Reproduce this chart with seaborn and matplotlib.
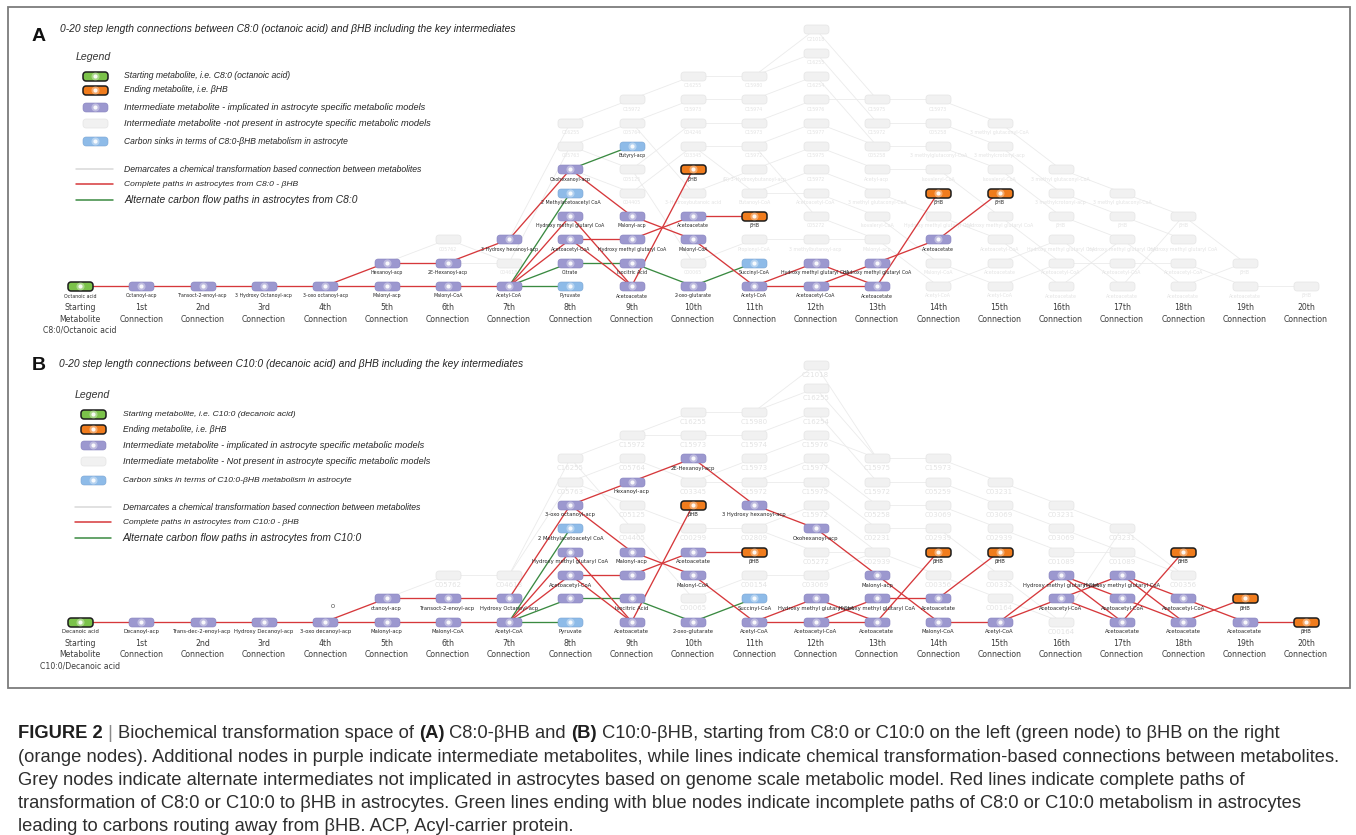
import numpy as np
import pandas as pd
import matplotlib
matplotlib.use("Agg")
import matplotlib.pyplot as plt
import seaborn as sns
from matplotlib.path import Path
from matplotlib.markers import MarkerStyle
from matplotlib.patches import Rectangle
from matplotlib import font_manager

sns.set_theme(style="white")
plt.rcParams["font.family"] = ["DejaVu Sans"]

# ------------------------------------------------------------------ data
COLUMN_HEADS = ["Starting", "1st", "2nd", "3rd", "4th", "5th", "6th", "7th", "8th", "9th",
                "10th", "11th", "12th", "13th", "14th", "15th", "16th", "17th", "18th",
                "19th", "20th"]
COLUMN_SUB = ["Metabolite"] + ["Connection"] * 20
START_NAME_A = "C8:0/Octanoic acid"
START_NAME_B = "C10:0/Decanoic acid"

# (connection, row, metabolite, kind)
A_NODES = [
    (0, 0, "Octanoic acid", "start"),
    (1, 0, "Octanoyl-acp", "mid"),
    (2, 0, "Transoct-2-enoyl-acp", "mid"),
    (3, 0, "3 Hydroxy Octanoyl-acp", "mid"),
    (4, 0, "3-oxo octanoyl-acp", "mid"),
    (5, 0, "Malonyl-acp", "mid"),
    (5, 1, "Hexanoyl-acp", "mid"),
    (6, 0, "Malonyl-CoA", "mid"),
    (6, 1, "2E-Hexanoyl-acp", "mid"),
    (7, 0, "Acetyl-CoA", "mid"),
    (7, 2, "3 Hydroxy hexanoyl-acp", "mid"),
    (8, 0, "Pyruvate", "sink"),
    (8, 1, "Citrate", "mid"),
    (8, 2, "Acetoacetyl-CoA", "mid"),
    (8, 3, "Hydroxy methyl glutaryl CoA", "mid"),
    (8, 4, "2 Methylacetoacetyl CoA", "sink"),
    (8, 5, "Oxohexanoyl-acp", "mid"),
    (9, 0, "Acetoacetate", "mid"),
    (9, 1, "Isocitric Acid", "mid"),
    (9, 2, "Hydroxy methyl glutaryl CoA", "mid"),
    (9, 3, "Malonyl-acp", "mid"),
    (9, 6, "Butyryl-acp", "sink"),
    (10, 0, "2-oxo-glutarate", "mid"),
    (10, 2, "Malonyl-CoA", "mid"),
    (10, 3, "Acetoacetate", "mid"),
    (10, 5, "βHB", "end"),
    (11, 0, "Acetyl-CoA", "mid"),
    (11, 1, "Succinyl-CoA", "sink"),
    (11, 3, "βHB", "end"),
    (12, 0, "Acetoacetyl-CoA", "mid"),
    (12, 1, "Hydroxy methyl glutaryl CoA", "mid"),
    (13, 0, "Acetoacetate", "mid"),
    (13, 1, "Hydroxy methyl glutaryl CoA", "mid"),
    (14, 2, "Acetoacetate", "mid"),
    (14, 4, "βHB", "end"),
    (15, 4, "βHB", "end"),
]

# (from connection, from row, to connection, to row, path kind)
A_EDGES = [
    (0, 0, 1, 0, "path"), (1, 0, 2, 0, "path"), (2, 0, 3, 0, "path"), (3, 0, 4, 0, "path"),
    (4, 0, 5, 0, "path"), (4, 0, 5, 1, "path"), (5, 0, 6, 0, "path"), (5, 1, 6, 1, "path"),
    (6, 0, 7, 0, "path"), (6, 1, 7, 2, "path"), (7, 2, 8, 5, "path"), (7, 0, 8, 3, "path"),
    (7, 0, 8, 2, "path"), (8, 5, 9, 3, "path"), (8, 3, 9, 0, "path"), (8, 2, 9, 2, "path"),
    (8, 2, 9, 0, "path"), (9, 3, 10, 2, "path"), (9, 2, 10, 3, "path"), (9, 0, 10, 5, "path"),
    (10, 3, 11, 3, "path"), (10, 2, 11, 0, "path"), (11, 0, 12, 1, "path"), (11, 0, 12, 0, "path"),
    (12, 1, 13, 0, "path"), (12, 0, 13, 1, "path"), (12, 0, 13, 0, "path"), (13, 1, 14, 2, "path"),
    (13, 0, 14, 4, "path"), (14, 2, 15, 4, "path"),
    (7, 0, 8, 4, "alt"), (7, 0, 8, 1, "alt"), (7, 0, 8, 0, "alt"), (8, 5, 9, 6, "alt"),
    (8, 1, 9, 1, "alt"), (9, 1, 10, 0, "alt"), (10, 0, 11, 1, "alt"),
]

# metabolites not present in astrocyte models: connection -> [(row, name)]
A_GREY_NODES = {
    6: [(2, "C05762")],
    7: [(1, "C04618")],
    8: [(6, "C05763"), (7, "C16255")],
    9: [(4, "C04405"), (5, "C05125"), (7, "C05764"), (8, "C15972")],
    10: [(1, "C00065"), (4, "3-Hydroxybutanoic acid"), (6, "C03345"), (7, "C04246"),
         (8, "C15973"), (9, "C16255")],
    11: [(2, "Propionyl-CoA"), (4, "Butanoyl-CoA"), (5, "(R)-3-Hydroxybutanoyl-acp"),
         (6, "C15972"), (7, "C15973"), (8, "C15974"), (9, "C15980")],
    12: [(2, "3 methylbutanoyl-acp"), (3, "C05272"), (4, "Acetoacetyl-CoA"), (5, "C15972"),
         (6, "C15975"), (7, "C15977"), (8, "C15976"), (9, "C16254"), (10, "C16255"),
         (11, "C21018")],
    13: [(2, "Malonyl-acp"), (3, "Isovaleryl-CoA"), (4, "3 methyl glutaconyl-CoA"),
         (5, "Acetyl-acp"), (6, "C05258"), (7, "C15972"), (8, "C15975")],
    14: [(0, "Acetyl-CoA"), (1, "Malonyl-CoA"), (3, "Hydroxy methyl glutaryl CoA"),
         (5, "Isovaleryl-CoA"), (6, "3 methylglutaconyl-CoA"), (7, "C05258"), (8, "C15973")],
    15: [(0, "Acetyl-CoA"), (1, "Acetoacetate"), (2, "Acetoacetyl-CoA"),
         (3, "Hydroxy methyl glutaryl CoA"), (5, "Isovaleryl-CoA"),
         (6, "3 methylcrotonyl-acp"), (7, "3 methyl glutaconyl-CoA")],
    16: [(0, "Acetoacetate"), (1, "Acetoacetyl-CoA"), (2, "Hydroxy methyl glutaryl CoA"),
         (3, "βHB"), (4, "3 methylcrotonyl-acp"), (5, "3 methyl glutaconyl-CoA")],
    17: [(0, "Acetoacetate"), (1, "Acetoacetyl-CoA"), (2, "Hydroxy methyl glutaryl CoA"),
         (3, "βHB"), (4, "3 methyl glutaconyl-CoA")],
    18: [(0, "Acetoacetate"), (1, "Acetoacetyl-CoA"), (2, "Hydroxy methyl glutaryl CoA"),
         (3, "βHB")],
    19: [(0, "Acetoacetate"), (1, "βHB")],
    20: [(0, "βHB")],
}

A_GREY_EDGES = [
    (5, 1, 6, 2), (6, 2, 7, 1), (6, 1, 7, 1), (7, 1, 8, 6), (7, 2, 8, 7), (8, 7, 9, 8),
    (8, 6, 9, 7), (8, 5, 9, 4), (8, 6, 9, 5), (9, 8, 10, 9), (9, 7, 10, 8), (9, 5, 10, 7),
    (9, 4, 10, 6), (9, 7, 10, 4), (9, 5, 10, 1), (10, 9, 11, 9), (10, 8, 11, 8), (10, 7, 11, 7),
    (10, 6, 11, 6), (10, 4, 11, 5), (10, 1, 11, 2), (10, 6, 11, 4), (11, 9, 12, 11),
    (11, 9, 12, 10), (11, 8, 12, 9), (11, 7, 12, 8), (11, 6, 12, 7), (11, 5, 12, 6),
    (11, 4, 12, 5), (11, 4, 12, 4), (11, 2, 12, 2), (11, 6, 12, 3), (12, 11, 13, 8),
    (12, 10, 13, 7), (12, 9, 13, 6), (12, 8, 13, 8), (12, 7, 13, 6), (12, 6, 13, 5),
    (12, 5, 13, 4), (12, 4, 13, 3), (12, 3, 13, 2), (12, 2, 13, 2), (13, 8, 14, 8),
    (13, 7, 14, 7), (13, 6, 14, 6), (13, 5, 14, 5), (13, 4, 14, 3), (13, 3, 14, 1),
    (13, 2, 14, 0), (14, 8, 15, 7), (14, 7, 15, 6), (14, 6, 15, 5), (14, 5, 15, 3),
    (14, 3, 15, 2), (14, 1, 15, 0), (14, 0, 15, 1), (15, 7, 16, 5), (15, 6, 16, 4),
    (15, 5, 16, 3), (15, 3, 16, 1), (15, 2, 16, 0), (15, 1, 16, 2), (15, 0, 16, 1),
    (16, 5, 17, 4), (16, 4, 17, 3), (16, 3, 17, 2), (16, 2, 17, 0), (16, 1, 17, 1),
    (16, 0, 17, 2), (17, 4, 18, 3), (17, 3, 18, 2), (17, 2, 18, 0), (17, 1, 18, 1),
    (17, 0, 18, 3), (18, 3, 19, 1), (18, 1, 19, 0), (18, 0, 19, 1), (19, 0, 20, 0),
]

B_NODES = [
    (0, 0, "Decanoic acid", "start"),
    (1, 0, "Decanoyl-acp", "mid"),
    (2, 0, "Trans-dec-2-enoyl-acp", "mid"),
    (3, 0, "Hydroxy Decanoyl-acp", "mid"),
    (4, 0, "3-oxo decanoyl-acp", "mid"),
    (5, 0, "Malonyl-acp", "mid"),
    (5, 1, "ctanoyl-acp", "mid"),
    (6, 0, "Malonyl-CoA", "mid"),
    (6, 1, "Transoct-2-enoyl-acp", "mid"),
    (7, 0, "Acetyl-CoA", "mid"),
    (7, 1, "Hydroxy Octanoyl-acp", "mid"),
    (8, 0, "Pyruvate", "sink"),
    (8, 1, "", "mid"),
    (8, 2, "Acetoacetyl-CoA", "mid"),
    (8, 3, "Hydroxy methyl glutaryl CoA", "mid"),
    (8, 4, "2 Methylacetoacetyl CoA", "sink"),
    (8, 5, "3-oxo octanoyl-acp", "mid"),
    (9, 0, "Acetoacetate", "mid"),
    (9, 1, "Isocitric Acid", "mid"),
    (9, 2, "", "mid"),
    (9, 3, "Malonyl-acp", "mid"),
    (9, 6, "Hexanoyl-acp", "mid"),
    (10, 0, "2-oxo-glutarate", "mid"),
    (10, 2, "Malonyl-CoA", "mid"),
    (10, 3, "Acetoacetate", "mid"),
    (10, 5, "βHB", "end"),
    (10, 7, "2E-Hexanoyl-acp", "mid"),
    (11, 0, "Acetyl-CoA", "mid"),
    (11, 1, "Succinyl-CoA", "sink"),
    (11, 3, "βHB", "end"),
    (11, 5, "3 Hydroxy hexanoyl-acp", "mid"),
    (12, 0, "Acetoacetyl-CoA", "mid"),
    (12, 1, "Hydroxy methyl glutaryl CoA", "mid"),
    (12, 4, "Oxohexanoyl-acp", "mid"),
    (13, 0, "Acetoacetate", "mid"),
    (13, 1, "Hydroxy methyl glutaryl CoA", "mid"),
    (13, 2, "Malonyl-acp", "mid"),
    (14, 0, "Malonyl-CoA", "mid"),
    (14, 1, "Acetoacetate", "mid"),
    (14, 3, "βHB", "end"),
    (15, 0, "Acetyl-CoA", "mid"),
    (15, 3, "βHB", "end"),
    (16, 1, "Acetoacetyl-CoA", "mid"),
    (16, 2, "Hydroxy methyl glutaryl CoA", "mid"),
    (17, 0, "Acetoacetate", "mid"),
    (17, 1, "Acetoacetyl-CoA", "mid"),
    (17, 2, "Hydroxy methyl glutaryl CoA", "mid"),
    (18, 0, "Acetoacetate", "mid"),
    (18, 1, "Acetoacetyl-CoA", "mid"),
    (18, 3, "βHB", "end"),
    (19, 0, "Acetoacetate", "mid"),
    (19, 1, "βHB", "end"),
    (20, 0, "βHB", "end"),
]

B_EDGES = [
    (0, 0, 1, 0, "path"), (1, 0, 2, 0, "path"), (2, 0, 3, 0, "path"), (3, 0, 4, 0, "path"),
    (4, 0, 5, 0, "path"), (4, 0, 5, 1, "path"), (5, 0, 6, 0, "path"), (5, 1, 6, 1, "path"),
    (6, 0, 7, 0, "path"), (6, 1, 7, 1, "path"), (7, 1, 8, 5, "path"), (7, 0, 8, 3, "path"),
    (7, 0, 8, 2, "path"), (8, 5, 9, 6, "path"), (8, 5, 9, 3, "path"), (8, 3, 9, 0, "path"),
    (8, 2, 9, 2, "path"), (8, 2, 9, 0, "path"), (9, 6, 10, 7, "path"), (9, 3, 10, 2, "path"),
    (9, 2, 10, 3, "path"), (9, 0, 10, 5, "path"), (10, 7, 11, 5, "path"), (10, 3, 11, 3, "path"),
    (10, 2, 11, 0, "path"), (11, 5, 12, 4, "path"), (11, 0, 12, 1, "path"), (11, 0, 12, 0, "path"),
    (12, 4, 13, 2, "path"), (12, 1, 13, 0, "path"), (12, 0, 13, 1, "path"), (12, 0, 13, 0, "path"),
    (13, 2, 14, 0, "path"), (13, 1, 14, 1, "path"), (13, 0, 14, 3, "path"), (14, 1, 15, 3, "path"),
    (14, 0, 15, 0, "path"), (15, 0, 16, 2, "path"), (15, 0, 16, 1, "path"), (16, 2, 17, 1, "path"),
    (16, 2, 17, 0, "path"), (16, 1, 17, 2, "path"), (16, 1, 17, 0, "path"), (17, 2, 18, 1, "path"),
    (17, 2, 18, 0, "path"), (17, 1, 18, 0, "path"), (17, 0, 18, 3, "path"), (18, 1, 19, 0, "path"),
    (18, 0, 19, 1, "path"), (19, 0, 20, 0, "path"),
    (7, 0, 8, 4, "alt"), (7, 0, 8, 1, "alt"), (7, 0, 8, 0, "alt"), (8, 1, 9, 1, "alt"),
    (9, 1, 10, 0, "alt"), (10, 0, 11, 1, "alt"),
]

B_GREY_NODES = {
    6: [(2, "C05762")],
    7: [(2, "C04618")],
    8: [(6, "C05763"), (7, "C16255")],
    9: [(4, "C04405"), (5, "C05125"), (7, "C05764"), (8, "C15972")],
    10: [(1, "C00065"), (4, "C00299"), (6, "C03345"), (8, "C15973"), (9, "C16255")],
    11: [(2, "C00154"), (4, "C02809"), (6, "C15972"), (7, "C15973"), (8, "C15974"),
         (9, "C15980")],
    12: [(2, "C03069"), (3, "C05272"), (5, "C15972"), (6, "C15975"), (7, "C15977"),
         (8, "C15976"), (9, "C16254"), (10, "C16255"), (11, "C21018")],
    13: [(3, "C02939"), (4, "C02231"), (5, "C05258"), (6, "C15972"), (7, "C15975")],
    14: [(2, "C00356"), (4, "C02939"), (5, "C03069"), (6, "C05259"), (7, "C15973")],
    15: [(1, "C00164"), (2, "C00332"), (4, "C02939"), (5, "C03069"), (6, "C03231")],
    16: [(0, "C00164"), (3, "C01089"), (4, "C03069"), (5, "C03231")],
    17: [(3, "C01089"), (4, "C03231")],
    18: [(2, "C00356")],
}

B_GREY_EDGES = [
    (5, 1, 6, 2), (6, 2, 7, 2), (7, 2, 8, 7), (7, 2, 8, 6), (8, 7, 9, 8), (8, 6, 9, 7),
    (8, 6, 9, 5), (8, 7, 9, 4), (9, 8, 10, 9), (9, 8, 10, 8), (9, 7, 10, 6), (9, 5, 10, 4),
    (9, 4, 10, 1), (10, 9, 11, 9), (10, 8, 11, 8), (10, 6, 11, 7), (10, 6, 11, 6),
    (10, 4, 11, 4), (10, 1, 11, 2), (11, 9, 12, 11), (11, 9, 12, 10), (11, 8, 12, 9),
    (11, 7, 12, 8), (11, 6, 12, 7), (11, 6, 12, 6), (11, 4, 12, 5), (11, 4, 12, 3),
    (11, 2, 12, 2), (12, 11, 13, 7), (12, 10, 13, 7), (12, 9, 13, 6), (12, 8, 13, 7),
    (12, 7, 13, 5), (12, 6, 13, 4), (12, 5, 13, 3), (12, 3, 13, 3), (12, 2, 13, 3),
    (13, 7, 14, 7), (13, 6, 14, 6), (13, 5, 14, 5), (13, 4, 14, 4), (13, 3, 14, 2),
    (14, 7, 15, 6), (14, 6, 15, 5), (14, 5, 15, 4), (14, 4, 15, 2), (14, 2, 15, 1),
    (15, 6, 16, 5), (15, 5, 16, 4), (15, 4, 16, 3), (15, 2, 16, 0), (15, 1, 16, 0),
    (16, 5, 17, 4), (16, 4, 17, 3), (16, 3, 17, 3), (16, 0, 17, 4), (17, 4, 18, 2),
    (17, 3, 18, 2),
]

TITLE_A = ("0-20 step length connections between C8:0 (octanoic acid) and βHB "
           "including the key intermediates")
TITLE_B = ("0-20 step length connections between C10:0 (decanoic acid) and βHB "
           "including the key intermediates")

LEGEND_A = [
    "Starting metabolite, i.e. C8:0 (octanoic acid)",
    "Ending metabolite, i.e. βHB",
    "Intermediate metabolite - implicated in astrocyte specific metabolic models",
    "Intermediate metabolite -not present in astrocyte specific metabolic models",
    "Carbon sinks in terms of C8:0-βHB metabolism in astrocyte",
    "Demarcates a chemical transformation based connection between metabolites",
    "Complete paths in astrocytes from C8:0 - βHB",
    "Alternate carbon flow paths in astrocytes from C8:0",
]
LEGEND_B = [
    "Starting metabolite, i.e. C10:0 (decanoic acid)",
    "Ending metabolite, i.e. βHB",
    "Intermediate metabolite - implicated in astrocyte specific metabolic models",
    "Intermediate metabolite - Not present in astrocyte specific metabolic models",
    "Carbon sinks in terms of C10:0-βHB metabolism in astrocyte",
    "Demarcates a chemical transformation based connection between metabolites",
    "Complete paths in astrocytes from C10:0 - βHB",
    "Alternate carbon flow paths in astrocytes from C10:0",
]
LEGEND_KINDS = ["start", "end", "mid", "grey", "sink", "grey_line", "path", "alt"]

CAPTION = [
    [("FIGURE 2", "bold"), (" | ", "bar"), ("Biochemical transformation space of ", "normal"),
     ("(A)", "bold"), (" C8:0-βHB and ", "normal"), ("(B)", "bold"),
     (" C10:0-βHB, starting from C8:0 or C10:0 on the left (green node) to βHB on the right",
      "normal")],
    [("(orange nodes). Additional nodes in purple indicate intermediate metabolites, while lines "
      "indicate chemical transformation-based connections between metabolites.", "normal")],
    [("Grey nodes indicate alternate intermediates not implicated in astrocytes based on genome "
      "scale metabolic model. Red lines indicate complete paths of", "normal")],
    [("transformation of C8:0 or C10:0 to βHB in astrocytes. Green lines ending with blue nodes "
      "indicate incomplete paths of C8:0 or C10:0 metabolism in astrocytes", "normal")],
    [("leading to carbons routing away from βHB. ACP, Acyl-carrier protein.", "normal")],
]

# ------------------------------------------------------------------ styling
W, H = 1356, 835
COL_X0, COL_DX = 80.0, 61.3          # pixel position of connection 0 and spacing
ROW_DY = 23.35                        # pixel spacing of rows
ROW0_A, ROW0_B = 286.0, 621.7         # pixel height of row 0 in each panel

RED_LINE = "#d6383b"
GREEN_LINE = "#3a8a41"
GREY_LINE = "#ebebeb"
NODE_STYLE = {
    "start": dict(color="#7bc24a", edgecolor="#1c1c1c", linewidth=1.1),
    "end": dict(color="#f07c1d", edgecolor="#1c1c1c", linewidth=1.1),
    "mid": dict(color="#9c98cf", edgecolor="#8783bf", linewidth=0.4),
    "sink": dict(color="#8ebbe8", edgecolor="#7aa5d3", linewidth=0.4),
    "grey": dict(color="#f1f1f1", edgecolor="#e5e5e5", linewidth=0.5),
}


def rounded_rect_path(w=1.0, h=0.36, r=0.12, n=7):
    verts = []
    corners = [(w / 2 - r, h / 2 - r, 0), (-w / 2 + r, h / 2 - r, 90),
               (-w / 2 + r, -h / 2 + r, 180), (w / 2 - r, -h / 2 + r, 270)]
    for cx, cy, a0 in corners:
        for a in np.radians(np.linspace(a0, a0 + 90, n)):
            verts.append((cx + r * np.cos(a), cy + r * np.sin(a)))
    verts.append(verts[0])
    codes = [Path.MOVETO] + [Path.LINETO] * (len(verts) - 2) + [Path.CLOSEPOLY]
    return Path(verts, codes)


NODE_MARKER = MarkerStyle(rounded_rect_path())
NODE_S = 18.0 ** 2                    # node width 18 pt = 25 px
PX = 0.72                             # points per pixel at 100 dpi


def has_font(name):
    try:
        font_manager.findfont(name, fallback_to_default=False)
        return True
    except ValueError:
        return False


SANS = "Liberation Sans" if has_font("Liberation Sans") else "DejaVu Sans"
NARROW = "Liberation Sans Narrow" if has_font("Liberation Sans Narrow") else SANS

# ------------------------------------------------------------------ figure
fig = plt.figure(figsize=(W / 100, H / 100), dpi=100, facecolor="white")
bg = fig.add_axes([0, 0, 1, 1], zorder=0)
bg.set_xlim(0, W)
bg.set_ylim(H, 0)
bg.axis("off")
renderer = fig.canvas.get_renderer()


def text_width(s, **kw):
    t = bg.text(0, 0, s, **kw)
    w = t.get_window_extent(renderer=renderer).width
    t.remove()
    return w


def fit_size(s, target, **kw):
    return 10.0 * target / text_width(s, fontsize=10.0, **kw)


def edge_frame(edges):
    rows = []
    for i, e in enumerate(edges):
        rows.append({"edge": i, "x": e[0], "y": e[1]})
        rows.append({"edge": i, "x": e[2], "y": e[3]})
    return pd.DataFrame(rows, columns=["edge", "x", "y"])


def add_glow(ax, df, zorder):
    sns.scatterplot(data=df, x="col", y="row", marker="o", s=34, color="white", alpha=0.35,
                    linewidth=0, ax=ax, zorder=zorder, legend=False)
    sns.scatterplot(data=df, x="col", y="row", marker="o", s=9, color="white", alpha=0.9,
                    linewidth=0, ax=ax, zorder=zorder, legend=False)


def draw_panel(ax, row0, nodes, edges, grey_nodes, grey_edges, label_pt, grey_pt,
               start_name):
    nd = pd.DataFrame(nodes, columns=["col", "row", "label", "kind"])
    gd = pd.DataFrame([(c, r, lab) for c, items in grey_nodes.items() for r, lab in items],
                      columns=["col", "row", "label"])

    # background network of transformations
    sns.lineplot(data=edge_frame(grey_edges), x="x", y="y", units="edge", estimator=None,
                 sort=False, color=GREY_LINE, lw=0.6, ax=ax, zorder=1, legend=False)
    sns.scatterplot(data=gd, x="col", y="row", marker=NODE_MARKER, s=NODE_S, ax=ax,
                    zorder=2, legend=False, **NODE_STYLE["grey"])
    for g in gd.itertuples():
        ax.annotate(g.label, (g.col, g.row), xytext=(0, -10 * PX), textcoords="offset points",
                    ha="center", va="center", fontsize=grey_pt, color="#e3e3e3", zorder=2)

    # astrocyte paths
    ed = pd.DataFrame(edges, columns=["c1", "r1", "c2", "r2", "kind"])
    for kind, color in [("alt", GREEN_LINE), ("path", RED_LINE)]:
        sub = ed[ed["kind"] == kind][["c1", "r1", "c2", "r2"]].values.tolist()
        sns.lineplot(data=edge_frame(sub), x="x", y="y", units="edge", estimator=None,
                     sort=False, color=color, lw=0.95, ax=ax, zorder=3, legend=False)

    for kind in ["mid", "sink", "start", "end"]:
        sub = nd[nd["kind"] == kind]
        if len(sub):
            sns.scatterplot(data=sub, x="col", y="row", marker=NODE_MARKER, s=NODE_S, ax=ax,
                            zorder=4, legend=False, **NODE_STYLE[kind])
    add_glow(ax, nd, 5)

    for n in nd.itertuples():
        if n.label:
            ax.annotate(n.label, (n.col, n.row), xytext=(0, -10 * PX),
                        textcoords="offset points", ha="center", va="center",
                        fontsize=label_pt, color="#262626", zorder=6)

    # connection headers
    for c, (head, sub) in enumerate(zip(COLUMN_HEADS, COLUMN_SUB)):
        ax.annotate(head, (c, 0), xytext=(0, -22 * PX), textcoords="offset points",
                    ha="center", va="center", fontsize=5.6, color="#3b3b3b")
        ax.annotate(sub, (c, 0), xytext=(0, -33 * PX), textcoords="offset points",
                    ha="center", va="center", fontsize=5.6, color="#3b3b3b")
    ax.annotate(start_name, (0, 0), xytext=(0, -44 * PX), textcoords="offset points",
                ha="center", va="center", fontsize=5.6, color="#3b3b3b")

    ax.set_xlim((0 - COL_X0) / COL_DX, (W - COL_X0) / COL_DX)
    ax.set_ylim((row0 - H) / ROW_DY, row0 / ROW_DY)
    ax.axis("off")


ax_a = fig.add_axes([0, 0, 1, 1], zorder=1)
ax_a.patch.set_alpha(0)
draw_panel(ax_a, ROW0_A, A_NODES, A_EDGES, A_GREY_NODES, A_GREY_EDGES, 3.4, 3.4, START_NAME_A)

ax_b = fig.add_axes([0, 0, 1, 1], zorder=2)
ax_b.patch.set_alpha(0)
draw_panel(ax_b, ROW0_B, B_NODES, B_EDGES, B_GREY_NODES, B_GREY_EDGES, 3.8, 5.0, START_NAME_B)
ax_b.annotate("O", (4, 0), xytext=(8 * PX, 15 * PX), textcoords="offset points",
              ha="center", va="center", fontsize=3.8, color="#333333")

# ------------------------------------------------------------------ frame, titles, legends
bg.add_patch(Rectangle((8, 7), 1342, 681, fill=False, edgecolor="#7c7c7c", lw=1.3))


def draw_header(letter, lx, ly, title, tx, ty, tw):
    bg.text(lx, ly, letter, fontsize=14, weight="bold", family=SANS, ha="center",
            va="center", color="#111111")
    size = fit_size(title, tw, family=NARROW, style="italic")
    bg.text(tx, ty, title, fontsize=size, family=NARROW, style="italic", ha="left",
            va="center", color="#222222")


def draw_legend(texts, widths, x_title, y_title, x_sw, y_rows, x_line, x_text):
    bg.text(x_title, y_title, "Legend", family=NARROW, style="italic",
            fontsize=fit_size("Legend", 35, family=NARROW, style="italic"),
            ha="left", va="center", color="#333333")
    for text, kind, y, w in zip(texts, LEGEND_KINDS, y_rows, widths):
        if kind in NODE_STYLE:
            bg.scatter([x_sw], [y], marker=NODE_MARKER, s=NODE_S, zorder=3, **NODE_STYLE[kind])
            if kind != "grey":
                bg.scatter([x_sw], [y], marker="o", s=34, color="white", alpha=0.35,
                           linewidth=0, zorder=4)
                bg.scatter([x_sw], [y], marker="o", s=9, color="white", alpha=0.9,
                           linewidth=0, zorder=4)
        else:
            color = {"grey_line": "#d9d9d9", "path": RED_LINE, "alt": GREEN_LINE}[kind]
            bg.plot([x_line[0], x_line[1]], [y, y], color=color, lw=1.1, zorder=3)
        size = fit_size(text, w, family=NARROW, style="italic")
        bg.text(x_text, y, text, fontsize=size, family=NARROW, style="italic", ha="left",
                va="center", color="#262626")


draw_header("A", 39, 36.5, TITLE_A, 60, 29, 457)
draw_legend(LEGEND_A, [167, 105, 303, 306, 224, 302, 174, 234],
            76, 57, 94.5, [76, 90, 107, 123, 141, 169, 184, 200], (76, 113), 124)

draw_header("B", 39, 365.5, TITLE_B, 59, 364, 466)
draw_legend(LEGEND_B, [172, 104, 303, 307, 228, 301, 177, 239],
            75, 395, 93, [414, 429, 445, 461, 480, 507, 522, 538], (75, 111), 123)

# ------------------------------------------------------------------ caption
cap_size = fit_size(CAPTION[1][0][0], 1327, family=SANS)
run_style = {
    "bold": dict(weight="bold", color="#1e1e1e"),
    "normal": dict(weight="normal", color="#2e2e2e"),
    "bar": dict(weight="normal", color="#8a8a8a"),
}
for line, y in zip(CAPTION, [734, 757.5, 780.5, 803.5, 826.5]):
    x = 18.0
    for text, style in line:
        st = run_style[style]
        bg.text(x, y, text, fontsize=cap_size, family=SANS, ha="left", va="center", **st)
        wt = text_width(text + "x", fontsize=cap_size, family=SANS, weight=st["weight"])
        x += wt - text_width("x", fontsize=cap_size, family=SANS, weight=st["weight"])

fig.savefig("out.png", dpi=100, facecolor="white")
